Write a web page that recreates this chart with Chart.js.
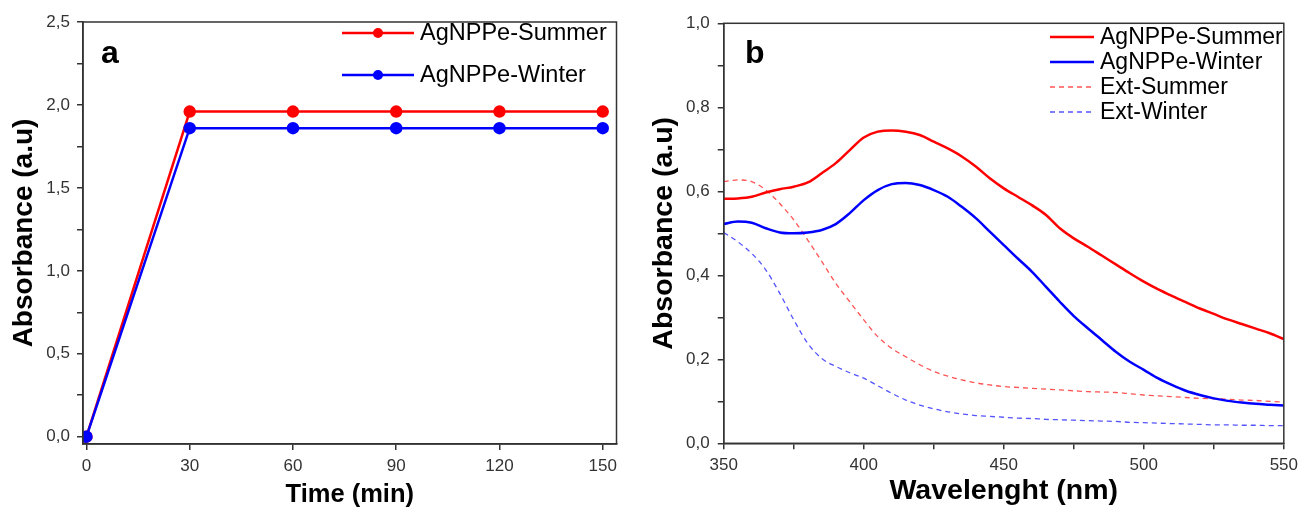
<!DOCTYPE html>
<html><head><meta charset="utf-8">
<script src="https://cdn.jsdelivr.net/npm/chart.js@4/dist/chart.umd.min.js"></script>
<style>
html,body{margin:0;padding:0;background:#fff;width:1304px;height:509px;overflow:hidden}
.p{position:absolute;top:0}
</style></head><body>
<div class="p" style="left:0"><canvas id="ca" width="650" height="509"></canvas></div>
<div class="p" style="left:650px"><canvas id="cb" width="654" height="509"></canvas></div>
<script>
// ---- Panel a data ----
const timeMin = [0, 30, 60, 90, 120, 150];
const summerTime = [0, 1.96, 1.96, 1.96, 1.96, 1.96];
const winterTime = [0, 1.86, 1.86, 1.86, 1.86, 1.86];
const timeTicks = [0, 30, 60, 90, 120, 150];

// ---- Panel b data ----
const wavelength = [350,355,360,365,370,375,380,385,390,395,400,405,410,415,420,425,430,435,440,445,450,455,460,465,470,475,480,485,490,495,500,505,510,515,520,525,530,535,540,545,550];
const agSummer = [0.582,0.583,0.587,0.597,0.605,0.611,0.621,0.643,0.667,0.698,0.728,0.742,0.745,0.742,0.734,0.718,0.702,0.683,0.659,0.631,0.607,0.587,0.567,0.544,0.512,0.488,0.468,0.447,0.426,0.405,0.385,0.367,0.351,0.336,0.321,0.308,0.295,0.284,0.273,0.262,0.248];
const agWinter = [0.522,0.528,0.525,0.512,0.502,0.500,0.502,0.508,0.522,0.548,0.579,0.603,0.617,0.620,0.615,0.603,0.587,0.563,0.536,0.504,0.472,0.440,0.409,0.373,0.337,0.303,0.274,0.246,0.218,0.194,0.175,0.155,0.139,0.125,0.115,0.107,0.101,0.097,0.094,0.092,0.090];
const extSummer = [0.623,0.627,0.623,0.603,0.571,0.532,0.484,0.433,0.381,0.337,0.294,0.254,0.226,0.206,0.187,0.171,0.160,0.151,0.144,0.139,0.135,0.133,0.131,0.129,0.127,0.125,0.123,0.122,0.121,0.118,0.115,0.113,0.111,0.109,0.107,0.106,0.105,0.103,0.102,0.100,0.098];
const extWinter = [0.502,0.480,0.452,0.413,0.357,0.294,0.238,0.202,0.183,0.168,0.155,0.137,0.119,0.103,0.091,0.082,0.075,0.070,0.066,0.064,0.062,0.060,0.059,0.057,0.056,0.055,0.054,0.053,0.052,0.050,0.049,0.048,0.047,0.046,0.045,0.044,0.044,0.043,0.043,0.042,0.042];

const labelsA = ['AgNPPe-Summer', 'AgNPPe-Winter'];
const labelsB = ['AgNPPe-Summer', 'AgNPPe-Winter', 'Ext-Summer', 'Ext-Winter'];
const RED = '#ff0000', BLUE = '#0000ff';
const AX = '#333333';
const FONT = "'Liberation Sans', Arial, sans-serif";

const pts = (xs, ys) => xs.map((x, i) => ({x, y: ys[i]}));

const framePlugin = {
  id: 'frame',
  afterDatasetsDraw(chart, args, opts) {
    const {ctx, chartArea: a} = chart;
    ctx.save();
    ctx.strokeStyle = AX; ctx.lineWidth = 1.5;
    ctx.strokeRect(a.left, a.top, a.right - a.left, a.bottom - a.top);
    // panel letter
    ctx.fillStyle = '#000';
    ctx.font = "bold 32px " + FONT;
    ctx.textBaseline = 'alphabetic';
    ctx.fillText(opts.letter, opts.lx, opts.ly);
    // legend
    const L = opts.legend;
    chart.data.datasets.forEach((ds, i) => {
      const y = L.y0 + i * L.dy;
      ctx.save();
      ctx.strokeStyle = ds.borderColor;
      ctx.lineWidth = ds.borderWidth;
      ctx.setLineDash(ds.borderDash || []);
      ctx.beginPath(); ctx.moveTo(L.x0, y); ctx.lineTo(L.x1, y); ctx.stroke();
      ctx.setLineDash([]);
      if (ds.pointRadius > 0) {
        ctx.fillStyle = ds.pointBackgroundColor;
        ctx.beginPath(); ctx.arc((L.x0 + L.x1) / 2, y, ds.pointRadius, 0, Math.PI * 2); ctx.fill();
      }
      ctx.fillStyle = '#000';
      ctx.font = L.size + 'px ' + FONT;
      ctx.textBaseline = 'middle';
      ctx.fillText(ds.label, L.tx, y + 1);
      ctx.restore();
    });
    ctx.restore();
  }
};

function axisCommon() {
  return {
    grid: {display: true, drawOnChartArea: false, drawTicks: true, tickLength: 6, color: AX, lineWidth: 1.5, tickColor: AX, tickWidth: 1.5},
    border: {display: true, color: AX, width: 1.5},
  };
}

// ---- Chart a ----
new Chart(document.getElementById('ca'), {
  type: 'line',
  data: {
    datasets: [
      {label: labelsA[0], data: pts(timeMin, summerTime), borderColor: RED, backgroundColor: RED, pointBackgroundColor: RED, pointBorderColor: RED, borderWidth: 2.5, pointRadius: 5, tension: 0, order: 1},
      {label: labelsA[1], data: pts(timeMin, winterTime), borderColor: BLUE, backgroundColor: BLUE, pointBackgroundColor: BLUE, pointBorderColor: BLUE, borderWidth: 2.5, pointRadius: 5, tension: 0, order: 0}
    ]
  },
  options: {
    responsive: false, animation: false, devicePixelRatio: 1,
    layout: {padding: {left: 0, top: 22, right: 33.5, bottom: 0}},
    plugins: {legend: {display: false}, tooltip: {enabled: false},
      frame: {letter: 'a', lx: 101, ly: 63, legend: {x0: 342, x1: 414, tx: 420, y0: 33, dy: 42, size: 23.5}}},
    scales: {
      x: Object.assign(axisCommon(), {
        type: 'linear', min: -1, max: 154,
        afterFit: s => { s.height = 65; },
        afterBuildTicks: s => { s.ticks = timeTicks.map(v => ({value: v})); },
        ticks: {color: AX, font: {family: FONT, size: 17}, padding: 6, autoSkip: false, maxRotation: 0, callback: v => String(v)},
        title: {display: true, text: 'Time (min)', color: '#000', font: {family: FONT, size: 25.5, weight: 'bold', lineHeight: 1}, padding: {top: 0, bottom: 1}}
      }),
      y: Object.assign(axisCommon(), {
        type: 'linear', min: -0.044, max: 2.5,
        afterFit: s => { s.width = 83; },
        ticks: {stepSize: 0.25, includeBounds: false, color: AX, font: {family: FONT, size: 17}, padding: 7, autoSkip: false,
          callback: v => (Math.abs(v * 2 - Math.round(v * 2)) < 1e-6 ? v.toFixed(1).replace('.', ',') : '')},
        title: {display: true, text: 'Absorbance (a.u)', color: '#000', font: {family: FONT, size: 28, weight: 'bold', lineHeight: 1}, padding: {top: 10, bottom: 0}}
      })
    }
  },
  plugins: [framePlugin]
});

// ---- Chart b ----
new Chart(document.getElementById('cb'), {
  type: 'line',
  data: {
    datasets: [
      {label: labelsB[0], data: pts(wavelength, agSummer), borderColor: RED, borderWidth: 2.5, pointRadius: 0, cubicInterpolationMode: 'monotone', order: 0},
      {label: labelsB[1], data: pts(wavelength, agWinter), borderColor: BLUE, borderWidth: 2.5, pointRadius: 0, cubicInterpolationMode: 'monotone', order: 1},
      {label: labelsB[2], data: pts(wavelength, extSummer), borderColor: 'rgba(255,40,40,0.8)', borderWidth: 1.3, borderDash: [5, 4], pointRadius: 0, cubicInterpolationMode: 'monotone', order: 2},
      {label: labelsB[3], data: pts(wavelength, extWinter), borderColor: 'rgba(40,40,255,0.8)', borderWidth: 1.3, borderDash: [5, 4], pointRadius: 0, cubicInterpolationMode: 'monotone', order: 3}
    ]
  },
  options: {
    responsive: false, animation: false, devicePixelRatio: 1,
    layout: {padding: {left: 0, top: 23.3, right: 15.25, bottom: 0}},
    plugins: {legend: {display: false}, tooltip: {enabled: false},
      frame: {letter: 'b', lx: 95, ly: 63, legend: {x0: 400, x1: 444, tx: 450, y0: 37, dy: 25, size: 23}}},
    scales: {
      x: Object.assign(axisCommon(), {
        type: 'linear', min: 350, max: 550,
        afterFit: s => { s.height = 65.7; },
        ticks: {stepSize: 25, color: AX, font: {family: FONT, size: 17}, padding: 6, autoSkip: false, maxRotation: 0,
          callback: v => (v % 50 === 0 ? String(v) : '')},
        title: {display: true, text: 'Wavelenght (nm)', color: '#000', font: {family: FONT, size: 28.5, weight: 'bold', lineHeight: 1}, padding: {top: 0, bottom: 4}}
      }),
      y: Object.assign(axisCommon(), {
        type: 'linear', min: 0, max: 1.0,
        afterFit: s => { s.width = 73.75; },
        ticks: {stepSize: 0.1, color: AX, font: {family: FONT, size: 17}, padding: 8, autoSkip: false,
          callback: v => (Math.round(v * 10) % 2 === 0 ? v.toFixed(1).replace('.', ',') : '')},
        title: {display: true, text: 'Absorbance (a.u)', color: '#000', font: {family: FONT, size: 28.5, weight: 'bold', lineHeight: 1}, padding: {top: 0, bottom: 0}}
      })
    }
  },
  plugins: [framePlugin]
});
</script>
</body></html>
